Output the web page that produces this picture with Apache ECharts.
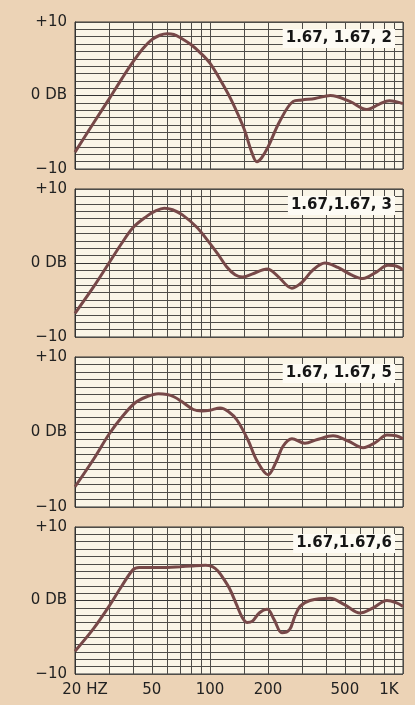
<!DOCTYPE html>
<html>
<head>
<meta charset="utf-8">
<script src="https://cdn.jsdelivr.net/npm/echarts@6/dist/echarts.min.js"></script>
<style>
html,body{margin:0;padding:0;background:#ecd3b6;}
#c{width:415px;height:705px;}
</style>
</head>
<body>
<div id="c"></div>
<script>
// Frequency-response curves: [frequency Hz, level dB]
const curve2 = [[20,-7.7],[25,-3.7],[30,-0.5],[35,2.3],[40,4.6],[45,6.4],[50,7.6],[55,8.2],[60,8.4],[65,8.3],[70,7.9],[80,6.9],[90,5.7],[100,4.4],[115,1.8],[130,-0.8],[150,-4.5],[165,-7.8],[175,-9.0],[185,-8.5],[200,-7.0],[230,-3.5],[270,-0.8],[300,-0.6],[350,-0.4],[420,0],[530,-0.8],[650,-1.9],[750,-1.2],[850,-0.7],[1000,-1.1]];
const curve3 = [[20,-6.8],[25,-3.2],[30,0.0],[35,2.7],[40,4.8],[47,6.3],[52,7.0],[58,7.4],[64,7.2],[72,6.5],[85,4.9],[97,3.1],[110,1.2],[122,-0.5],[135,-1.6],[147,-1.9],[165,-1.5],[198,-0.8],[225,-1.8],[266,-3.4],[300,-2.6],[340,-1.0],[394,0],[460,-0.6],[540,-1.6],[620,-2.1],[720,-1.3],[836,-0.3],[920,-0.4],[1000,-0.9]];
const curve5 = [[20,-7.3],[25,-3.6],[30,-0.3],[35,2.0],[41,3.9],[47,4.7],[54,5.1],[60,5.0],[65,4.7],[72,4.0],[82,3.0],[91,2.8],[100,2.9],[113,3.2],[125,2.7],[138,1.6],[157,-1.0],[175,-3.8],[200,-5.7],[220,-4.0],[239,-1.9],[266,-0.9],[310,-1.5],[360,-1.0],[434,-0.5],[520,-1.2],[621,-2.1],[720,-1.4],[826,-0.4],[920,-0.5],[1000,-0.9]];
const curve6 = [[20,-6.9],[25,-3.8],[30,-0.8],[35,2.0],[40,4.2],[43,4.5],[50,4.5],[60,4.5],[70,4.6],[80,4.7],[95,4.8],[103,4.6],[110,4.0],[118,2.9],[127,1.5],[137,-0.5],[147,-2.3],[156,-3.0],[166,-2.8],[180,-1.7],[198,-1.2],[215,-2.6],[236,-4.4],[258,-4.0],[275,-2.2],[293,-0.8],[330,0],[419,0.3],[500,-0.6],[598,-1.7],[700,-1.0],[826,0],[920,-0.3],[1000,-0.8]];

const panelTitles = ['1.67, 1.67, 2', '1.67,1.67, 3', '1.67, 1.67, 5', '1.67,1.67,6'];
const gridFreqs = [20,30,40,50,60,70,80,90,100,150,200,300,400,500,600,700,800,900,1000];
const freqLabels = [20,50,100,200,500,1000];
const freqLabelText = ['20 HZ','50','100','200','500','1K'];
const dbLabels = {'10':'+10','0':'0 DB','-10':'\u221210'};

const curves = [curve2, curve3, curve5, curve6];
const layout = [{top:22,height:147},{top:189,height:148},{top:357,height:150},{top:527,height:147}];
const FONT = 'DejaVu Sans';
const ink = '#222';
const gridColor = '#4e4c48';

const grids = [], xAxes = [], yAxes = [], series = [], titles = [];
curves.forEach((data, i) => {
  grids.push({left:75, width:328, top:layout[i].top, height:layout[i].height,
    show:true, backgroundColor:'#faf5e7', borderColor:'#333', borderWidth:1});
  const last = i === curves.length - 1;
  xAxes.push({type:'log', logBase:10, min:20, max:1000, gridIndex:i,
    axisLine:{show:true, lineStyle:{color:'#333', width:1}},
    axisTick:{show:false, customValues:gridFreqs},
    splitLine:{show:true, lineStyle:{color:gridColor, width:1}},
    axisLabel:{show:last, customValues:freqLabels, margin:9,
      fontFamily:FONT, fontSize:15, color:ink,
      formatter:(v)=>{const k=freqLabels.indexOf(Math.round(v)); const t=k>=0?freqLabelText[k]:'';
        if (k===0) return '{a|'+t+'}'; if (k===freqLabels.length-1) return '{b|'+t+'}'; return t;},
      rich:{a:{fontFamily:FONT,fontSize:15,color:ink,padding:[0,0,0,20]},
            b:{fontFamily:FONT,fontSize:15,color:ink,padding:[0,28,0,0]}}}
  });
  yAxes.push({type:'value', min:-10, max:10, interval:1, gridIndex:i,
    axisLine:{show:true, lineStyle:{color:'#333', width:1}},
    axisTick:{show:false},
    splitLine:{show:true, lineStyle:{color:gridColor, width:1}},
    axisLabel:{margin:8, fontFamily:FONT, fontSize:15, color:ink,
      formatter:(v)=> dbLabels[String(Math.round(v))] || ''}
  });
  series.push({type:'line', xAxisIndex:i, yAxisIndex:i, data:data, smooth:0.35,
    showSymbol:false, symbol:'none', lineStyle:{color:'#774848', width:3}, silent:true});
  titles.push({text:panelTitles[i], right:20, top:layout[i].top+7,
    backgroundColor:'#fdfbf4', padding:[2,3,2,3],
    textStyle:{fontFamily:FONT, fontSize:15, fontWeight:'bold', color:'#151515'}});
});

const chart = echarts.init(document.getElementById('c'), null, {renderer:'canvas'});
chart.setOption({
  animation:false,
  backgroundColor:'#ecd3b6',
  title:titles,
  grid:grids, xAxis:xAxes, yAxis:yAxes, series:series
});
</script>
</body>
</html>
